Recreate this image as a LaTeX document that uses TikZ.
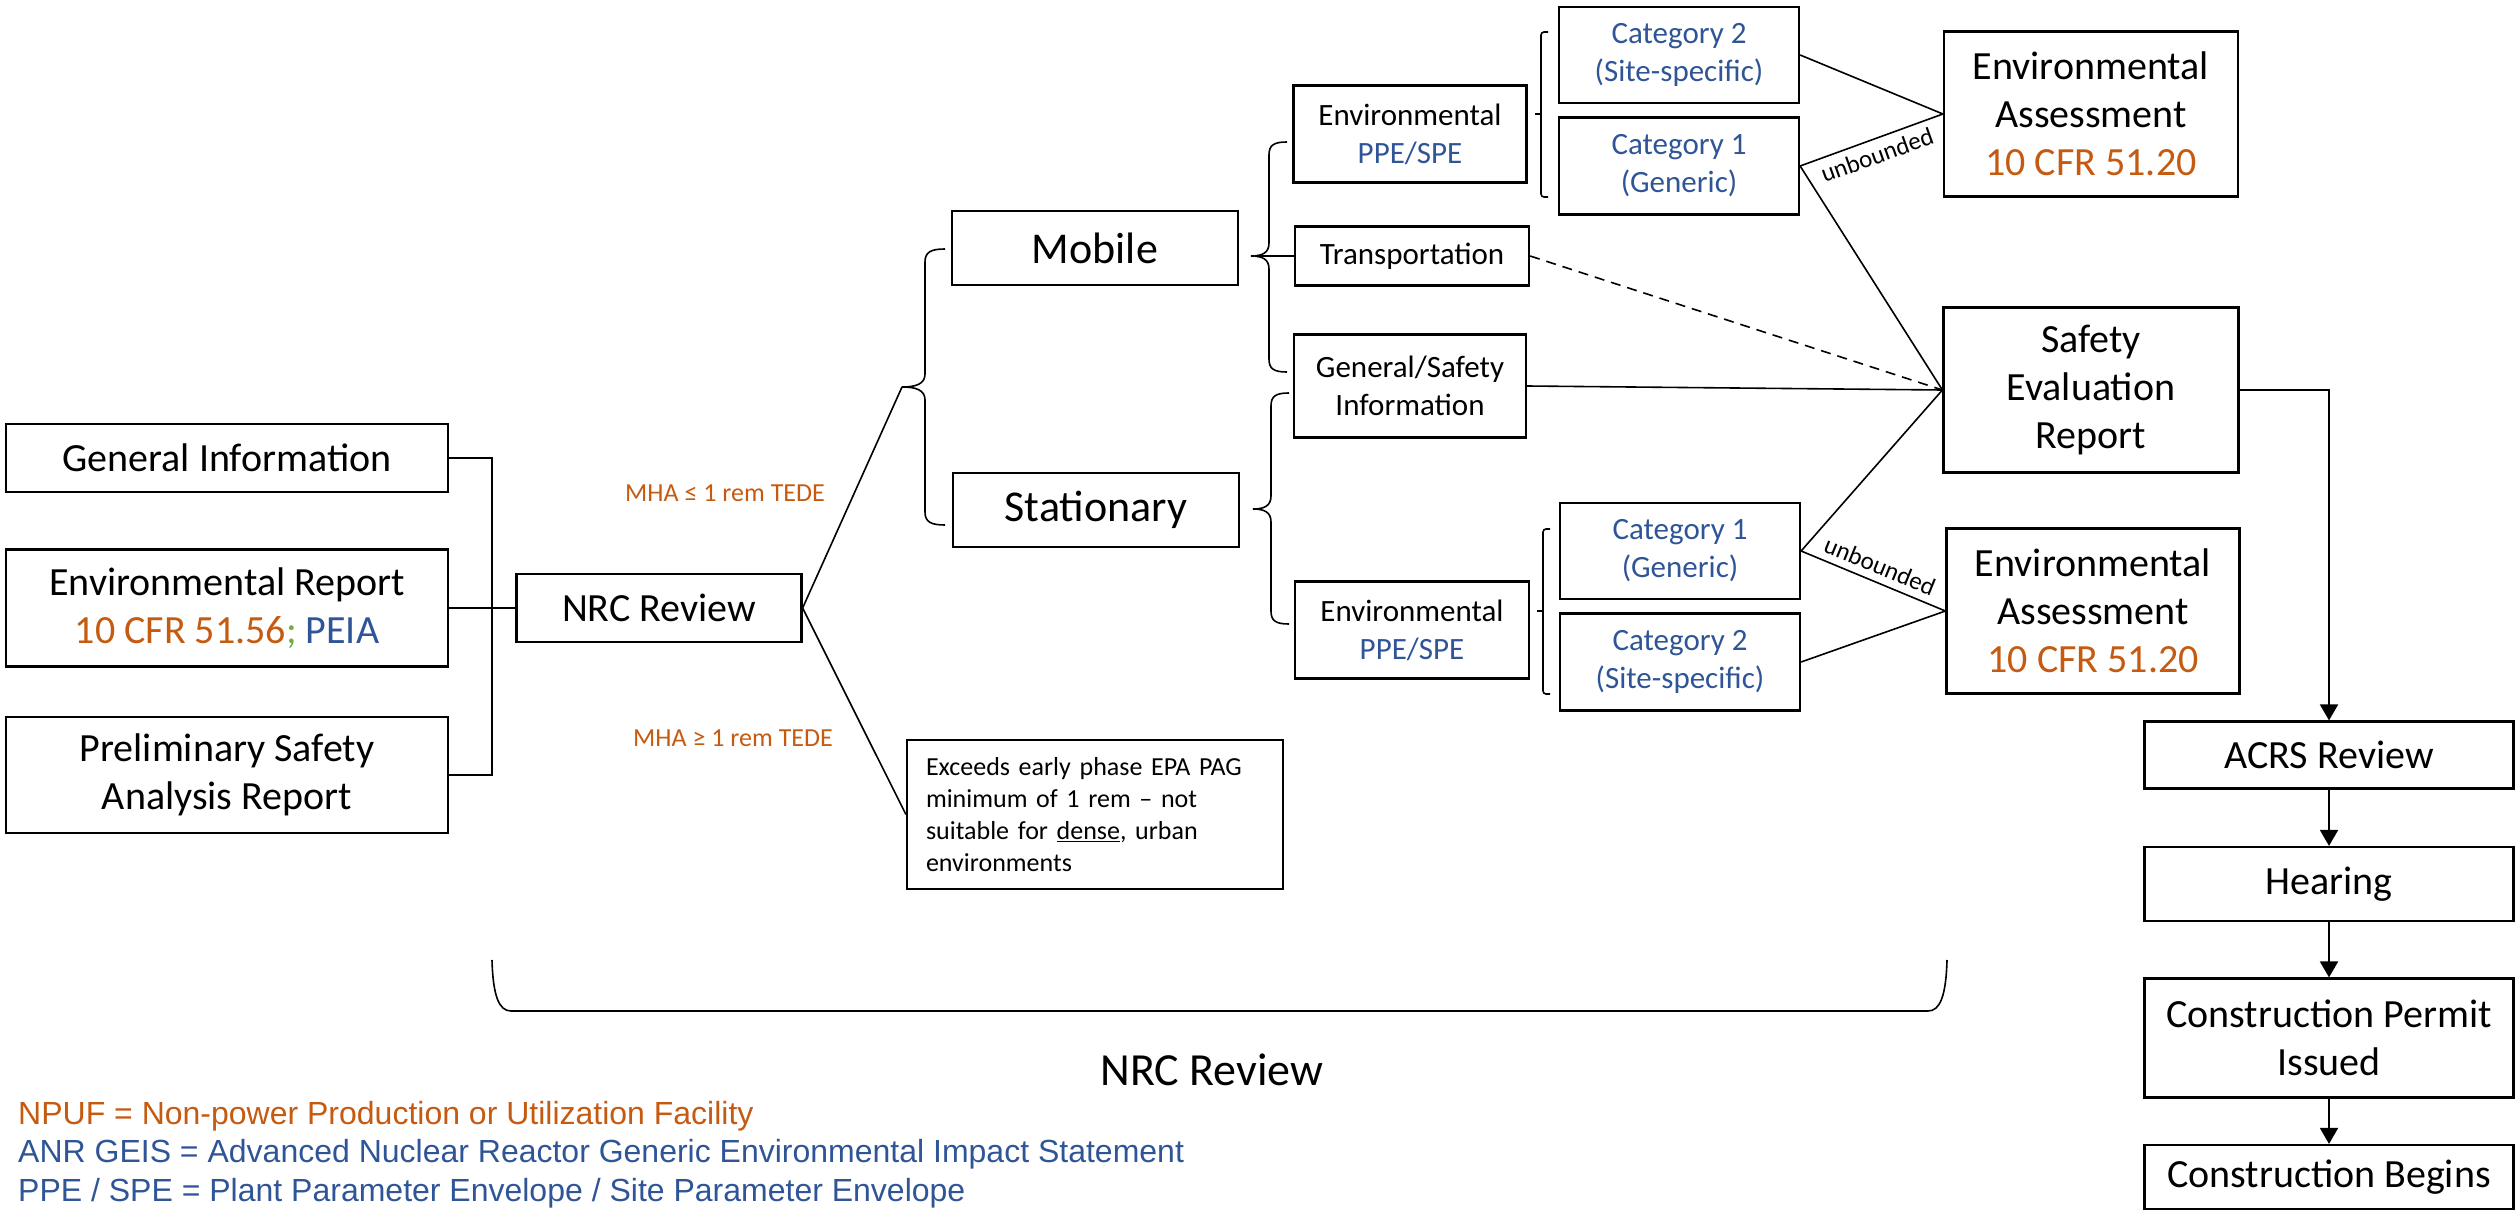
\documentclass[tikz,border=0pt]{standalone}
\usepackage{fontspec}
\setmainfont{Carlito}
\newfontfamily\legendfont{Liberation Sans}
\usetikzlibrary{arrows.meta}
\definecolor{cfrorange}{HTML}{C55A11}
\definecolor{geisblue}{HTML}{2F5597}
\definecolor{semigreen}{HTML}{70AD47}

\tikzset{
  box/.style={draw, line width=2.2pt, inner sep=0pt, align=center},
  big/.style={box, font=\fontsize{40}{48}\selectfont},
  huge/.style={box, font=\fontsize{44}{52}\selectfont},
  small/.style={box, font=\fontsize{31}{38}\selectfont},
  link/.style={line width=1.6pt},
  flow/.style={line width=2pt, -{Triangle[width=18pt,length=16pt]}},
  bracepath/.style={line width=1.6pt},
  tag/.style={font=\fontsize{26}{30}\selectfont, text=cfrorange},
  slant/.style={font=\fontsize{25}{30}\selectfont, inner sep=0pt},
  legend/.style={anchor=west, inner sep=0pt, font=\legendfont\fontsize{32}{38}\selectfont}
}

\begin{document}
\begin{tikzpicture}[x=1pt,y=-1pt]
\useasboundingbox (0,0) rectangle (2519,1214);

% application inputs
\node[big, minimum width=442, minimum height=68]  (gi)   at (227,458) {General Information};
\node[big, minimum width=442, minimum height=117] (er)   at (227,608) {Environmental Report\\\textcolor{cfrorange}{10 CFR 51.56}\textcolor{semigreen}{;} \textcolor{geisblue}{PEIA}};
\node[big, minimum width=442, minimum height=116] (psar) at (227,775) {Preliminary Safety\\Analysis Report};
\node[big, minimum width=285, minimum height=68]  (nrc)  at (659,608) {NRC Review};

% reactor type
\node[huge, minimum width=286, minimum height=74] (mob) at (1095,248) {Mobile};
\node[huge, minimum width=286, minimum height=74] (sta) at (1096,510) {Stationary};

\node[box, font=\fontsize{26}{32}\selectfont, minimum width=376, minimum height=149, text width=338pt, align=left] (ex) at (1095,814.5)
  {Exceeds early phase EPA PAG\\minimum of 1 rem -- not\\suitable for \underline{dense}, urban\\environments};

% review topics
\node[small, minimum width=233, minimum height=97]  (envA)  at (1410,134) {Environmental\\\textcolor{geisblue}{PPE/SPE}};
\node[small, minimum width=234, minimum height=59]  (trans) at (1412,256) {Transportation};
\node[small, minimum width=232, minimum height=103] (gs)    at (1410,386) {General/Safety\\Information};
\node[small, minimum width=234, minimum height=97]  (envB)  at (1412,630) {Environmental\\\textcolor{geisblue}{PPE/SPE}};

\node[small, text=geisblue, minimum width=240, minimum height=96] (c2a) at (1679,55)  {Category 2\\(Site-specific)};
\node[small, text=geisblue, minimum width=240, minimum height=97] (c1a) at (1679,166) {Category 1\\(Generic)};
\node[small, text=geisblue, minimum width=240, minimum height=96] (c1b) at (1680,551) {Category 1\\(Generic)};
\node[small, text=geisblue, minimum width=240, minimum height=97] (c2b) at (1680,662) {Category 2\\(Site-specific)};

% review products
\node[big, minimum width=294, minimum height=165] (eaA) at (2091,114) {Environmental\\Assessment\\\textcolor{cfrorange}{10 CFR 51.20}};
\node[big, minimum width=295, minimum height=165] (ser) at (2091,390) {Safety\\Evaluation\\Report};
\node[big, minimum width=293, minimum height=165] (eaB) at (2093,611) {Environmental\\Assessment\\\textcolor{cfrorange}{10 CFR 51.20}};

% final steps
\node[big, minimum width=369, minimum height=67]  (acrs) at (2329,755)  {ACRS Review};
\node[big, minimum width=369, minimum height=74]  (hear) at (2329,884)  {Hearing};
\node[big, minimum width=369, minimum height=119] (cpi)  at (2329,1038) {Construction Permit\\Issued};
\node[big, minimum width=369, minimum height=64]  (cb)   at (2329,1177) {Construction Begins};

% dose labels
\node[tag] (mhalo) at (725,493) {MHA ≤ 1 rem TEDE};
\node[tag] (mhahi) at (733,738) {MHA ≥ 1 rem TEDE};

% inputs to NRC review
\draw[link] (gi.east) -- ++(43,0) |- (psar.east);
\draw[link] (er.east) -- (nrc.west);

% brace grouping mobile / stationary
\coordinate (tipMS) at (902,387);
\draw[link] (nrc.east) -- (tipMS);
\draw[link] (nrc.east) -- (ex.west);
\draw[bracepath] (945,249) .. controls (931,249) and (925,252) .. (925,262) -- (925,374)
  .. controls (925,384) and (916,387) .. (tipMS)
  .. controls (916,387) and (925,390) .. (925,400) -- (925,512)
  .. controls (925,522) and (931,525) .. (945,525);

% brace for mobile
\coordinate (tipMob) at (1251,256);
\draw[bracepath] (1287,142) .. controls (1274,142) and (1269,145) .. (1269,155) -- (1269,243)
  .. controls (1269,253) and (1262,256) .. (tipMob)
  .. controls (1262,256) and (1269,259) .. (1269,269) -- (1269,359)
  .. controls (1269,369) and (1274,372) .. (1287,372);
\draw[link] (tipMob) -- (trans.west);

% brace for stationary
\coordinate (tipSta) at (1253,509);
\draw[bracepath] (1289,393) .. controls (1276,393) and (1271,396) .. (1271,406) -- (1271,496)
  .. controls (1271,506) and (1264,509) .. (tipSta)
  .. controls (1264,509) and (1271,512) .. (1271,522) -- (1271,611)
  .. controls (1271,621) and (1276,624) .. (1289,624);

% category brackets
\draw[link, rounded corners=3pt] (1548,32) -- (1541,32) -- (1541,197) -- (1548,197);
\draw[link] (1541,114) -- (1535,114);
\draw[link, rounded corners=3pt] (1550,529) -- (1543,529) -- (1543,694) -- (1550,694);
\draw[link] (1543,611) -- (1537,611);

% links to review products
\draw[link] (c2a.east) -- (eaA.west);
\draw[link] (c1a.east) -- (eaA.west);
\draw[link] (c1a.east) -- (ser.west);
\draw[link, dash pattern=on 10pt off 7pt] (trans.east) -- (ser.west);
\draw[link] (gs.east) -- (ser.west);
\draw[link] (c1b.east) -- (ser.west);
\draw[link] (c1b.east) -- (eaB.west);
\draw[link] (c2b.east) -- (eaB.west);
\node[slant, rotate=19.7]  (ubA) at (1877,155) {unbounded};
\node[slant, rotate=-22.2] (ubB) at (1880,566) {unbounded};

% permit flow
\draw[flow] (ser.east) -| (acrs.north);
\draw[flow] (acrs.south) -- (hear.north);
\draw[flow] (hear.south) -- (cpi.north);
\draw[flow] (cpi.south) -- (cb.north);

% overall review bracket
\draw[link] (492,960) .. controls (493,996) and (499,1011) .. (511,1011) -- (1928,1011)
  .. controls (1940,1011) and (1946,996) .. (1947,960);
\node[font=\fontsize{46}{54}\selectfont] (revlabel) at (1212,1070) {NRC Review};

% abbreviations
\node[legend, text=cfrorange] (lg1) at (18,1116) {NPUF = Non-power Production or Utilization Facility};
\node[legend, text=geisblue]  (lg2) at (18,1154) {ANR GEIS = Advanced Nuclear Reactor Generic Environmental Impact Statement};
\node[legend, text=geisblue]  (lg3) at (18,1193) {PPE / SPE = Plant Parameter Envelope / Site Parameter Envelope};
\end{tikzpicture}
\end{document}
